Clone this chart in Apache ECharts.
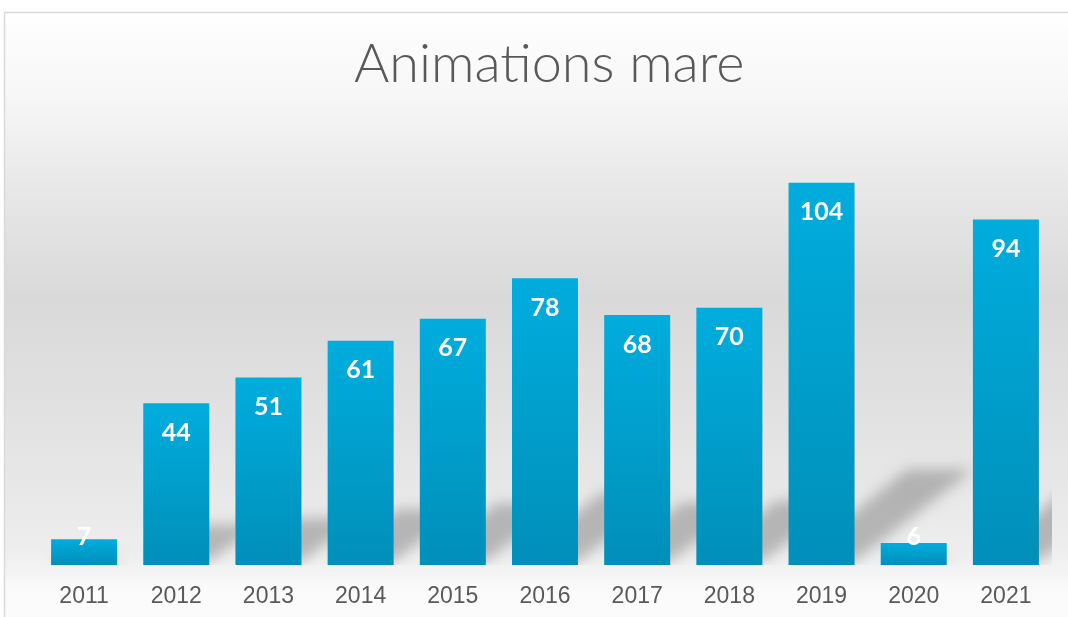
<!DOCTYPE html>
<html>
<head>
<meta charset="utf-8">
<script src="https://cdn.jsdelivr.net/npm/echarts@6/dist/echarts.min.js"></script>
<style>
html,body{margin:0;padding:0;background:#fff;}
#chart{width:1068px;height:617px;}
</style>
</head>
<body>
<div id="chart"></div>
<script>
const titleText = 'Animations mare';
const categories = ['2011','2012','2013','2014','2015','2016','2017','2018','2019','2020','2021'];
const values = [7, 44, 51, 61, 67, 78, 68, 70, 104, 6, 94];
const yMax = 120;

const chart = echarts.init(document.getElementById('chart'), null, {renderer: 'canvas'});

const barRatio = 0.716;
const OFF = 3000;

const barData = values.map(function (v) {
  const small = v < 16;
  return {
    value: v,
    label: small ? {position: 'insideBottom', distance: 16} : {position: 'insideTop', distance: 17}
  };
});

const shadowData = values.map(function (v, i) { return [i, v]; });

const option = {
  animation: false,
  graphic: [{
    type: 'rect',
    z: -10,
    silent: true,
    shape: {x: 4.5, y: 12.5, width: 1080, height: 620},
    style: {
      fill: {
        type: 'linear', x: 0, y: 0, x2: 0, y2: 1,
        colorStops: [
          {offset: 0, color: '#ffffff'},
          {offset: 0.14, color: '#f6f6f6'},
          {offset: 0.3, color: '#e6e6e6'},
          {offset: 0.46, color: '#d9d9d9'},
          {offset: 0.7, color: '#e4e4e4'},
          {offset: 0.86, color: '#ededed'},
          {offset: 0.905, color: '#f4f4f4'},
          {offset: 0.925, color: '#fafafa'},
          {offset: 1, color: '#fcfcfc'}
        ]
      },
      stroke: '#d9d9d9',
      lineWidth: 1.5
    }
  }],
  title: {
    text: titleText,
    left: 349,
    top: 33,
    textStyle: {
      fontFamily: 'Lato, "Open Sans", sans-serif',
      fontWeight: 300,
      fontSize: 54,
      color: '#595959'
    }
  },
  grid: {left: 38, right: 16, top: 124, bottom: 52, containLabel: false},
  xAxis: {
    type: 'category',
    data: categories,
    axisLine: {show: false},
    axisTick: {show: false},
    axisLabel: {
      color: '#595959',
      fontFamily: '"Liberation Sans", Arial, sans-serif',
      fontSize: 23,
      margin: 20
    }
  },
  yAxis: {
    type: 'value',
    min: 0,
    max: yMax,
    show: false,
    splitLine: {show: false}
  },
  series: [
    {
      type: 'custom',
      z: 1,
      clip: true,
      silent: true,
      data: shadowData,
      encode: {x: 0, y: 1},
      renderItem: function (params, api) {
        const i = api.value(0);
        const v = api.value(1);
        const top = api.coord([i, v]);
        const base = api.coord([i, 0]);
        const w = api.size([1, 0])[0] * barRatio;
        const x0 = base[0] - w / 2, x1 = base[0] + w / 2;
        const yb = base[1];
        const h = yb - top[1];
        const dx = 0.31 * h, dy = 0.25 * h;
        const pts = [[x0 + 4, yb - 3], [x1, yb - 3], [x1 + dx, yb - dy], [x0 + dx, yb - dy]]
          .map(function (p) { return [p[0] + OFF, p[1]]; });
        return {
          type: 'polygon',
          shape: {points: pts},
          style: {
            fill: '#000',
            shadowBlur: 14,
            shadowOffsetX: -OFF,
            shadowColor: 'rgba(0,0,0,0.23)'
          }
        };
      }
    },
    {
      type: 'bar',
      z: 3,
      data: barData,
      barCategoryGap: '28.4%',
      itemStyle: {
        color: {
          type: 'linear', x: 0, y: 0, x2: 0, y2: 1,
          colorStops: [
            {offset: 0, color: '#00addd'},
            {offset: 1, color: '#008fb9'}
          ]
        }
      },
      label: {
        show: true,
        color: '#ffffff',
        fontFamily: 'Lato, "Open Sans", sans-serif',
        fontWeight: 'bold',
        fontSize: 25
      }
    }
  ]
};

chart.setOption(option);
</script>
</body>
</html>
